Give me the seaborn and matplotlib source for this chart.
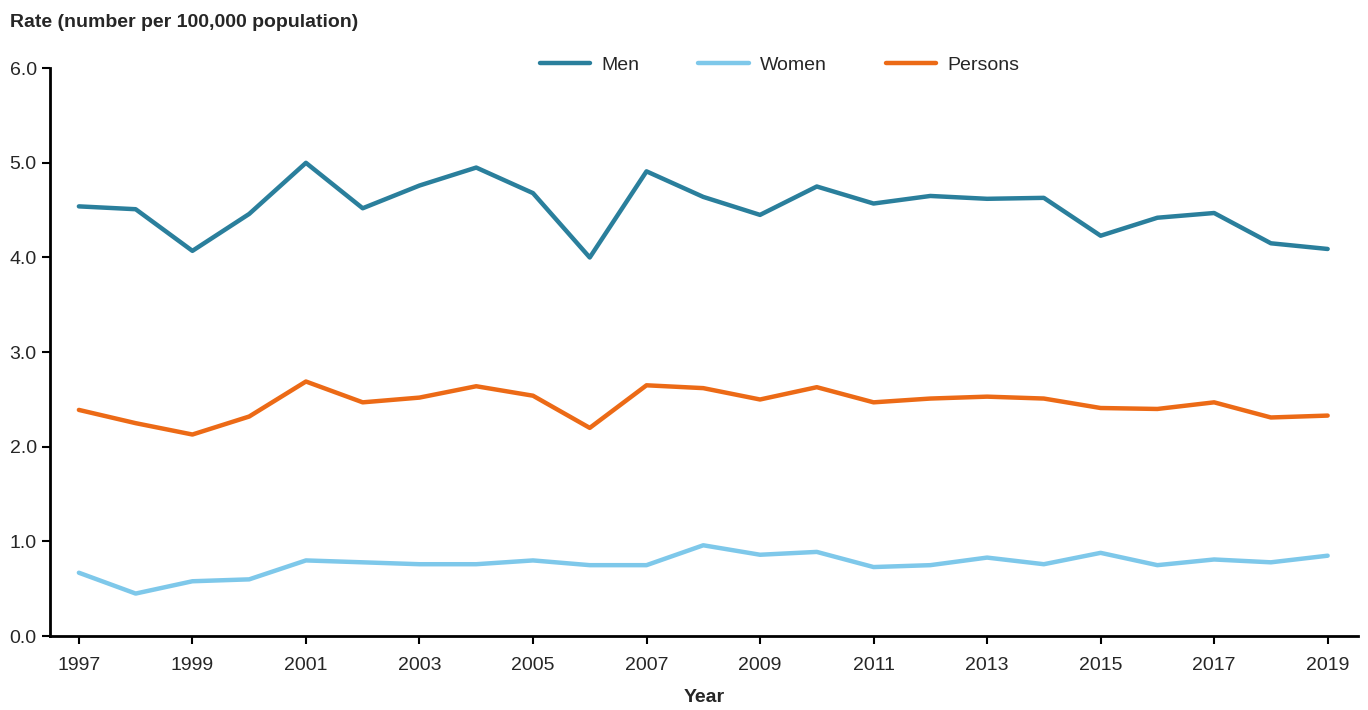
import pandas as pd
import matplotlib.pyplot as plt
import seaborn as sns

years = list(range(1997, 2020))

men = [4.54, 4.51, 4.07, 4.46, 5.00, 4.52, 4.76, 4.95, 4.68, 4.00, 4.91, 4.64,
       4.45, 4.75, 4.57, 4.65, 4.62, 4.63, 4.23, 4.42, 4.47, 4.15, 4.09]
women = [0.67, 0.45, 0.58, 0.60, 0.80, 0.78, 0.76, 0.76, 0.80, 0.75, 0.75, 0.96,
         0.86, 0.89, 0.73, 0.75, 0.83, 0.76, 0.88, 0.75, 0.81, 0.78, 0.85]
persons = [2.39, 2.25, 2.13, 2.32, 2.69, 2.47, 2.52, 2.64, 2.54, 2.20, 2.65, 2.62,
           2.50, 2.63, 2.47, 2.51, 2.53, 2.51, 2.41, 2.40, 2.47, 2.31, 2.33]

df = pd.DataFrame({"Year": years, "Men": men, "Women": women, "Persons": persons})
long = df.melt(id_vars="Year", var_name="Group", value_name="Rate")

sns.set_style("white")
plt.rcParams["font.family"] = ["Liberation Sans", "DejaVu Sans"]

colors = {"Men": "#2a7f9c", "Women": "#7ec8ea", "Persons": "#ec6a16"}

fig = plt.figure(figsize=(13.68, 7.10), dpi=100)
ax = fig.add_axes([0.0365, 0.104, 0.956, 0.800])

sns.lineplot(data=long, x="Year", y="Rate", hue="Group", palette=colors,
             linewidth=3.2, ax=ax)

ax.set_xlim(1996.49, 2019.53)
ax.set_ylim(0, 6)
ax.set_xticks(years[::2])
ax.set_yticks([0, 1, 2, 3, 4, 5, 6])
ax.set_yticklabels([f"{v:.1f}" for v in range(7)])
ax.tick_params(axis="both", labelsize=14, length=6, width=1.5, color="black",
               direction="out", left=True, bottom=True)
ax.tick_params(axis="x", pad=9)
ax.set_ylabel("")
ax.set_xlabel("Year", fontsize=14, fontweight="bold", labelpad=11)

for s in ["top", "right"]:
    ax.spines[s].set_visible(False)
for s in ["left", "bottom"]:
    ax.spines[s].set_color("black")
    ax.spines[s].set_linewidth(2)

fig.text(0.007, 0.968, "Rate (number per 100,000 population)", fontsize=14,
         fontweight="bold", va="center", ha="left")

leg = ax.legend(loc="center", bbox_to_anchor=(0.558, 1.006), ncol=3,
                frameon=False, fontsize=14, handlelength=2.6,
                handletextpad=0.6, columnspacing=3.0)
for line in leg.get_lines():
    line.set_linewidth(3.2)

fig.savefig("out.png", dpi=100)
